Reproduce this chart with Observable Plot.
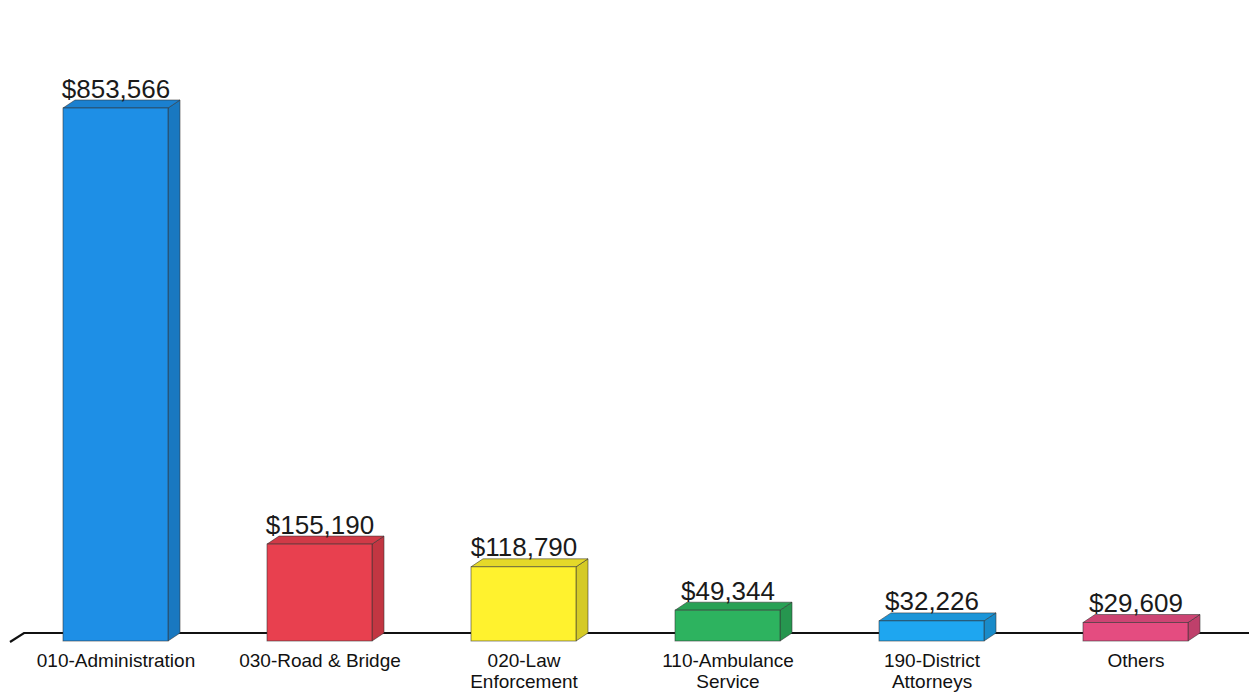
<!DOCTYPE html>
<html>
<head>
<meta charset="utf-8">
<script src="https://cdn.jsdelivr.net/npm/d3@7"></script>
<script src="https://cdn.jsdelivr.net/npm/@observablehq/plot@0.6"></script>
<style>
  html, body { margin: 0; padding: 0; background: #fff; }
  #chart { width: 1249px; height: 696px; }
</style>
</head>
<body>
<div id="chart"></div>
<script>
// ---- data ----
const categories = ["010-Administration", "030-Road & Bridge", "020-Law Enforcement", "110-Ambulance Service", "190-District Attorneys", "Others"];
const tickLabels = ["010-Administration", "030-Road & Bridge", "020-Law\nEnforcement", "110-Ambulance\nService", "190-District\nAttorneys", "Others"];
const amounts = [853566, 155190, 118790, 49344, 32226, 29609];
const barColors = ["#1e8fe6", "#e8404f", "#fff22e", "#2db35f", "#1ea6f0", "#e44c80"];

const data = categories.map((c, i) => ({category: c, label: tickLabels[i], value: amounts[i], color: barColors[i]}));
const fmt = d3.format("$,");

// 3D depth offsets (pixels)
const DX = 12, DY = 8;

function depthFaces(index, scales, values, dimensions) {
  const g = d3.create("svg:g");
  const bw = (scales.x && scales.x.bandwidth) ? scales.x.bandwidth() : 105;
  const y0 = scales.y(0);
  // floor line
  g.append("path")
    .attr("d", `M${dimensions.marginLeft - 2},${y0 + 1}L${dimensions.marginLeft + 12},${y0 - DY}L${dimensions.width},${y0 - DY}`)
    .attr("fill", "none").attr("stroke", "#111").attr("stroke-width", 2.2);
  for (const i of index) {
    const d = data[i];
    const x0 = scales.x(d.category);
    const yT = scales.y(d.value);
    const c = d3.color(d.color);
    // right side
    g.append("path")
      .attr("d", `M${x0 + bw},${yT}L${x0 + bw + DX},${yT - DY}L${x0 + bw + DX},${y0 - DY}L${x0 + bw},${y0}Z`)
      .attr("fill", c.darker(0.5).formatHex())
      .attr("stroke", "#333").attr("stroke-width", 0.8).attr("stroke-opacity", 0.7);
    // top
    g.append("path")
      .attr("d", `M${x0},${yT}L${x0 + DX},${yT - DY}L${x0 + bw + DX},${yT - DY}L${x0 + bw},${yT}Z`)
      .attr("fill", c.darker(0.3).formatHex())
      .attr("stroke", "#333").attr("stroke-width", 0.8).attr("stroke-opacity", 0.7);
  }
  return g.node();
}

const chart = Plot.plot({
  width: 1249,
  height: 696,
  marginLeft: 12,
  marginRight: 10,
  marginTop: 108,
  marginBottom: 55,
  x: {domain: categories, paddingInner: 0.486, paddingOuter: 0.245, axis: null},
  y: {domain: [0, d3.max(amounts)], axis: null},
  style: {fontFamily: "'Liberation Sans', Arial, sans-serif", background: "#fff", overflow: "visible"},
  marks: [
    Plot.barY(data, {x: "category", y: "value", render: depthFaces}),
    Plot.barY(data, {x: "category", y: "value", fill: "color", stroke: "#333", strokeWidth: 0.8, strokeOpacity: 0.7}),
    Plot.text(data, {x: "category", y: "value", text: d => fmt(d.value), dy: -11, lineAnchor: "bottom", fontSize: 26, fill: "#1a1a1a"}),
    Plot.text(data, {x: "category", frameAnchor: "bottom", text: "label", lineAnchor: "top", dy: 10, fontSize: 19, lineHeight: 1.12, fill: "#111"})
  ]
});
document.getElementById("chart").appendChild(chart);
</script>
</body>
</html>
